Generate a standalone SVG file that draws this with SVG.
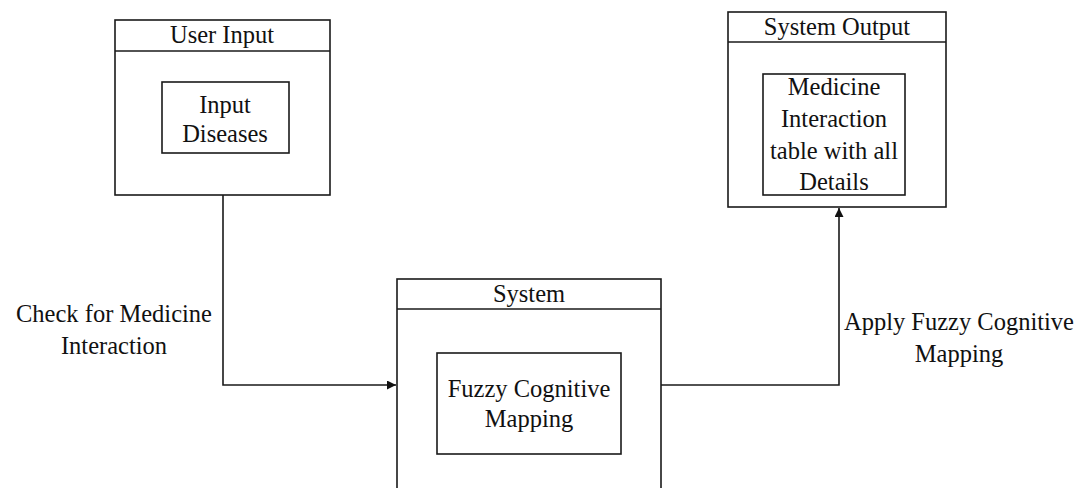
<svg xmlns="http://www.w3.org/2000/svg" width="1085" height="488" viewBox="0 0 1085 488">
  <style>
    .box { fill: #fff; stroke: #1a1a1a; stroke-width: 1.6; }
    .wire { fill: none; stroke: #1a1a1a; stroke-width: 1.6; }
    text { font-family: "Liberation Serif", "Times New Roman", serif; font-size: 24.5px; fill: #111; text-anchor: middle; }
  </style>
  <defs>
    <marker id="arrow" viewBox="0 0 10 10" refX="10" refY="5" markerWidth="10" markerHeight="9" markerUnits="userSpaceOnUse" orient="auto">
      <path d="M0,0 L10,5 L0,10 z" fill="#111"/>
    </marker>
  </defs>
  <rect width="1085" height="488" fill="#fff"/>

  <g id="user-input">
    <rect class="box" x="115" y="20" width="215" height="175"/>
    <line class="wire" x1="115" y1="51" x2="330" y2="51"/>
    <text x="222" y="43">User Input</text>
    <rect class="box" x="162" y="82" width="127" height="71"/>
    <text x="225" y="113">Input</text>
    <text x="225" y="142">Diseases</text>
  </g>

  <g id="system-output">
    <rect class="box" x="728" y="12" width="218" height="195"/>
    <line class="wire" x1="728" y1="42" x2="946" y2="42"/>
    <text x="837" y="35">System Output</text>
    <rect class="box" x="763" y="74" width="142" height="121"/>
    <text x="834" y="95">Medicine</text>
    <text x="834" y="127">Interaction</text>
    <text x="834" y="159">table with all</text>
    <text x="834" y="190">Details</text>
  </g>

  <g id="system">
    <rect class="box" x="397" y="279" width="264" height="220"/>
    <line class="wire" x1="397" y1="309" x2="661" y2="309"/>
    <text x="529" y="302">System</text>
    <rect class="box" x="437" y="353" width="184" height="101"/>
    <text x="529" y="397">Fuzzy Cognitive</text>
    <text x="529" y="427">Mapping</text>
  </g>

  <g id="connectors">
    <path class="wire" d="M223,195 V385 H396" marker-end="url(#arrow)"/>
    <path class="wire" d="M661,385 H839 V208" marker-end="url(#arrow)"/>
    <text x="114" y="322">Check for Medicine</text>
    <text x="114" y="354">Interaction</text>
    <text x="959" y="330">Apply Fuzzy Cognitive</text>
    <text x="959" y="362">Mapping</text>
  </g>
</svg>
